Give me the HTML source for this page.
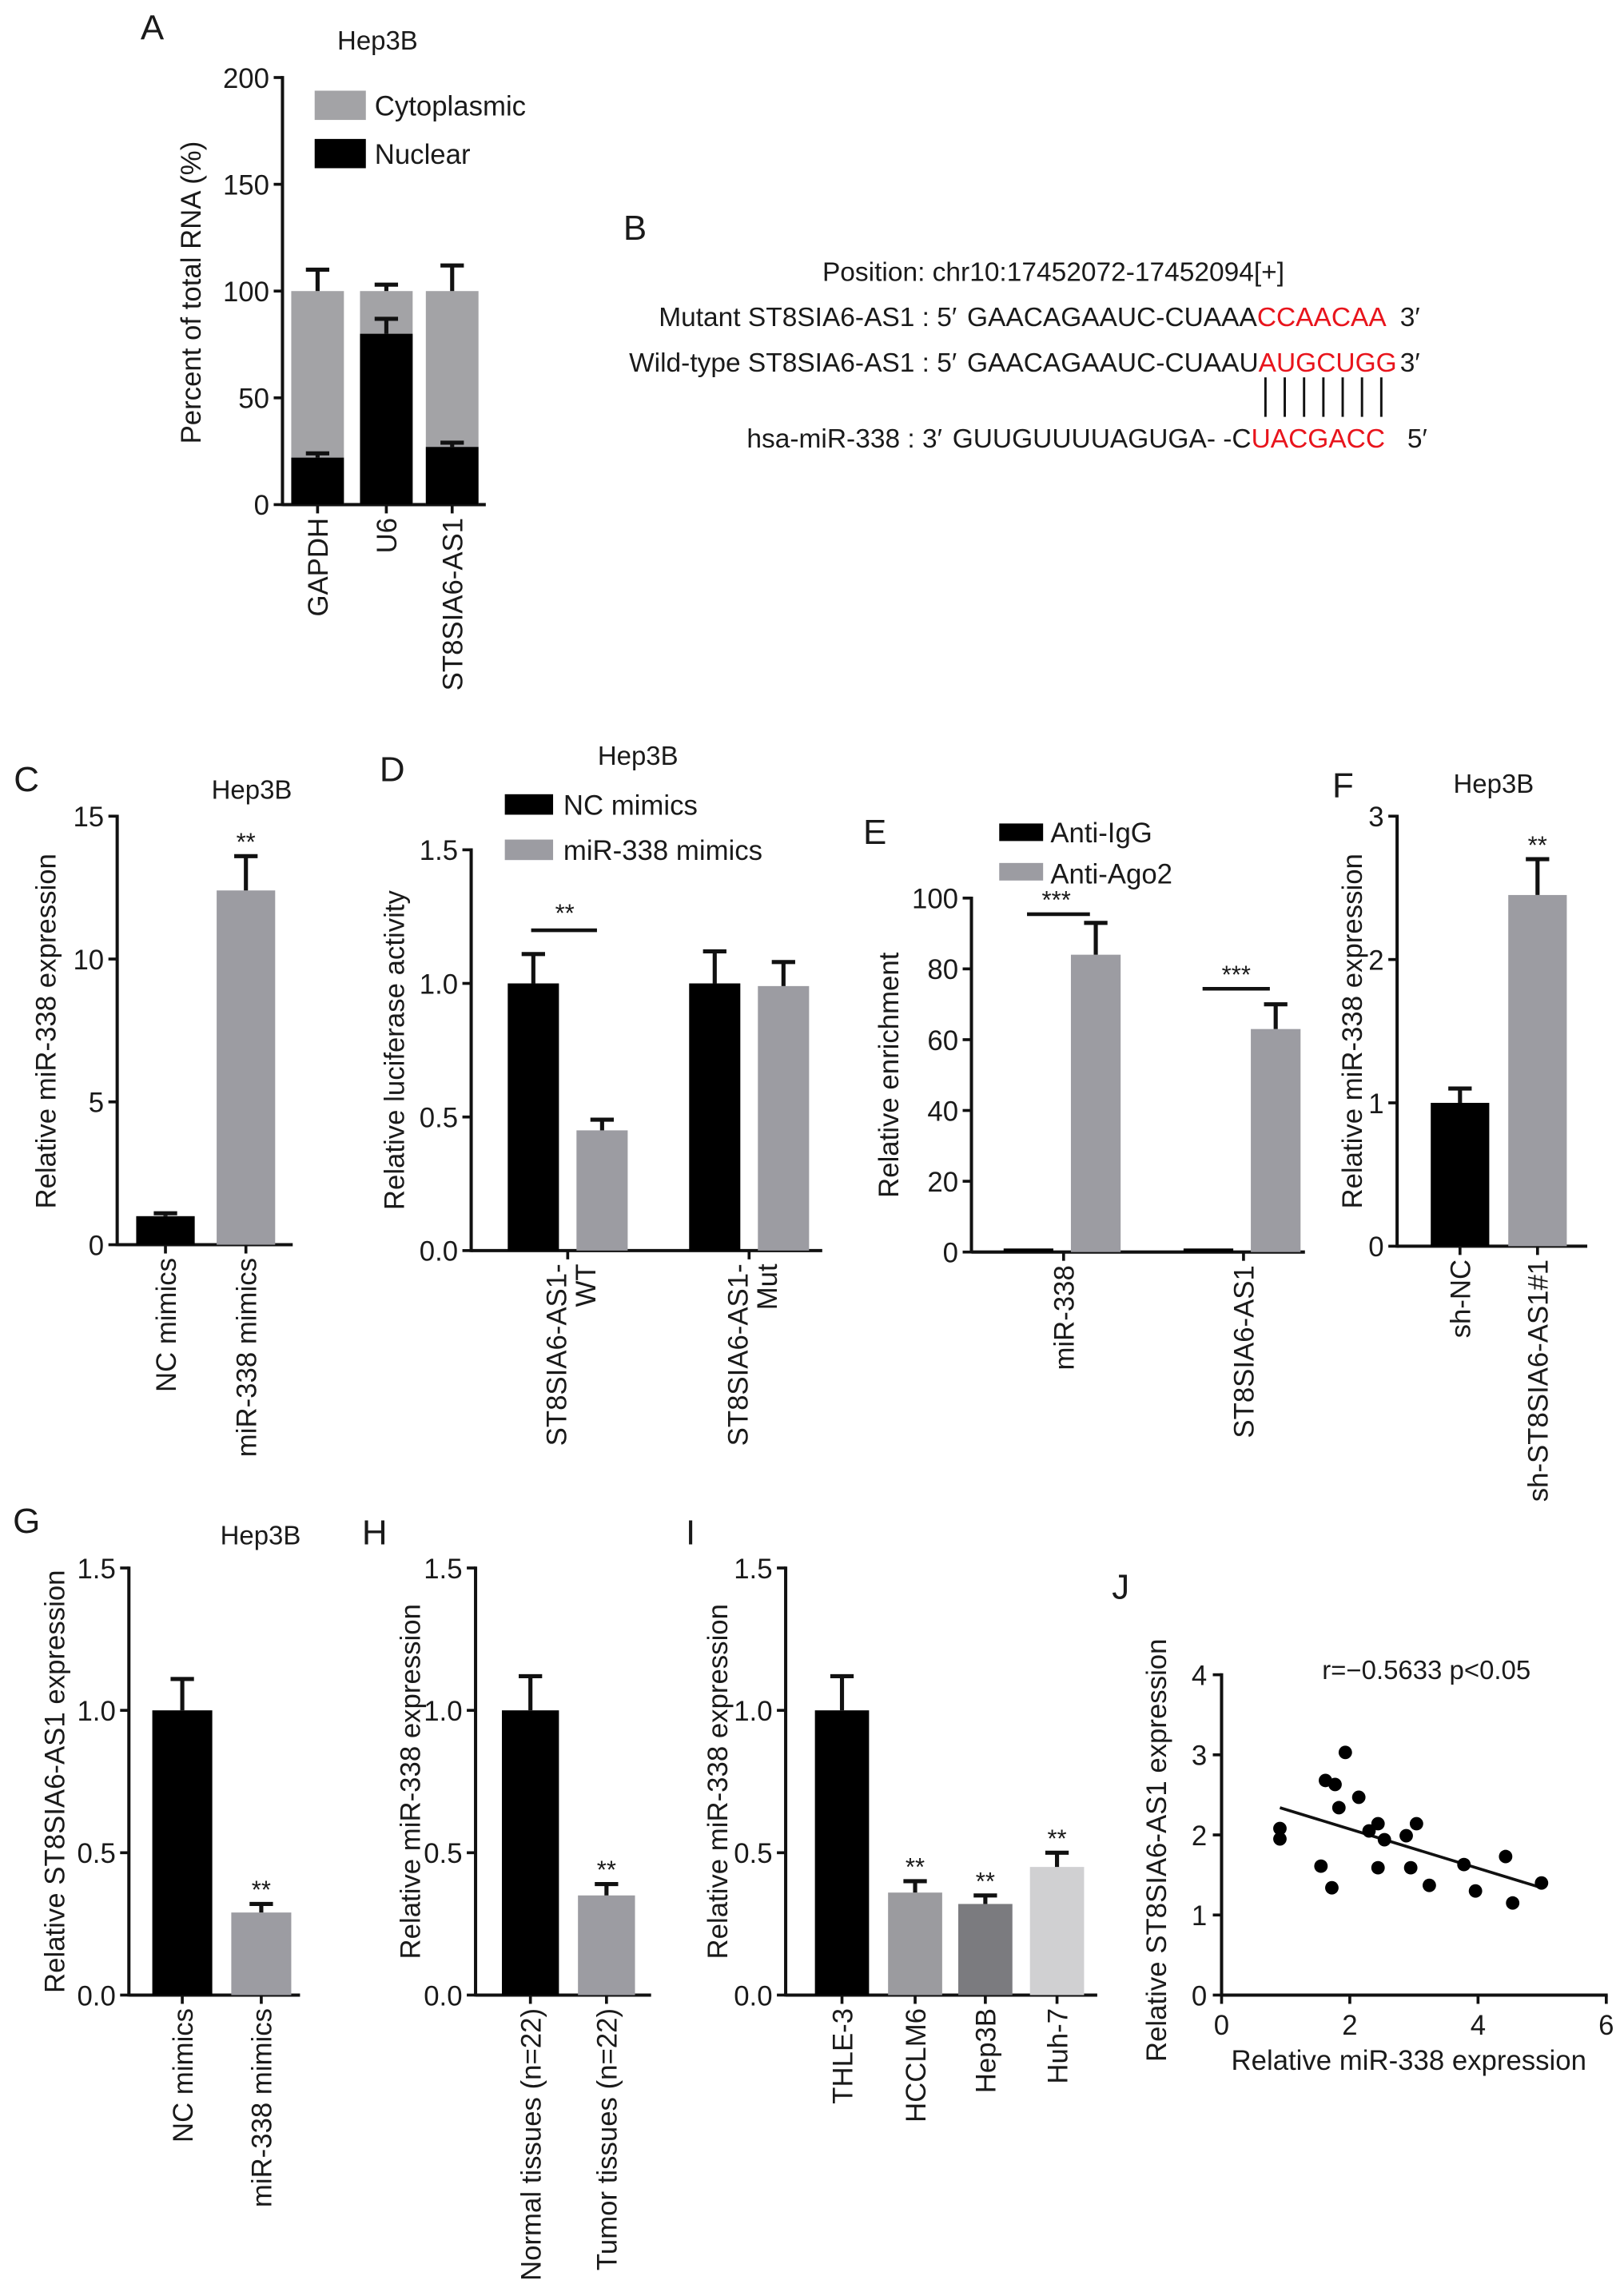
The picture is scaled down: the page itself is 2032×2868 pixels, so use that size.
<!DOCTYPE html>
<html><head><meta charset="utf-8"><style>
html,body{margin:0;padding:0;background:#fff}
svg{display:block}
text{font-family:"Liberation Sans",Arial,sans-serif;fill:#1a1a1a}
</style></head><body>
<svg id="fig" width="2032" height="2868" viewBox="0 0 1110 1567" xmlns="http://www.w3.org/2000/svg"></svg>
<script>
// ---------- data ----------
const aCats=["GAPDH","U6","ST8SIA6-AS1"];
const aNuclear=[22,80,27];
const aNuclearErr=[24,87,29];
const aTotal=[100,100,100];
const aTotalErr=[110,103,112];
const cCats=["NC mimics","miR-338 mimics"];
const cVals=[1.0,12.4];
const cErr=[1.1,13.6];
const dCats=["ST8SIA6-AS1-WT","ST8SIA6-AS1-Mut"];
const dNC=[1.0,1.0];
const dNCErr=[1.11,1.12];
const dMim=[0.45,0.99];
const dMimErr=[0.49,1.08];
const eCats=["miR-338","ST8SIA6-AS1"];
const eIgG=[1,1];
const eAgo=[84,63];
const eAgoErr=[93,70];
const fCats=["sh-NC","sh-ST8SIA6-AS1#1"];
const fVals=[1.0,2.45];
const fErr=[1.1,2.7];
const gCats=["NC mimics","miR-338 mimics"];
const gVals=[1.0,0.29];
const gErr=[1.11,0.32];
const hCats=["Normal tissues (n=22)","Tumor tissues (n=22)"];
const hVals=[1.0,0.35];
const hErr=[1.12,0.39];
const iCats=["THLE-3","HCCLM6","Hep3B","Huh-7"];
const iVals=[1.0,0.36,0.32,0.45];
const iErr=[1.12,0.40,0.35,0.50];
const jX=[0.91,0.91,1.55,1.72,1.62,1.77,1.83,1.93,2.14,2.30,2.44,2.54,2.44,2.88,3.04,2.95,3.24,3.78,3.96,4.43,4.54,4.99];
const jY=[2.08,1.95,1.61,1.34,2.68,2.63,2.34,3.03,2.47,2.05,2.14,1.94,1.59,1.99,2.14,1.59,1.37,1.63,1.30,1.73,1.15,1.40];
const jFit=[[0.91,2.34],[4.95,1.35]];
const jXTicks=[0,2,4,6];
const jYTicks=[0,1,2,3,4];

const FS=19;
const NS="http://www.w3.org/2000/svg";
const svg=document.getElementById('fig');
function el(tag,parent){const e=document.createElementNS(NS,tag);(parent||svg).appendChild(e);return e;}
function txt(s,x,y,size,anchor,parent,fill,rot){
  const t=el('text',parent);t.textContent=s;t.setAttribute('x',x);t.setAttribute('y',y);
  t.setAttribute('font-size',size);t.setAttribute('text-anchor',anchor||'start');
  if(fill)t.setAttribute('style','fill:'+fill);
  if(rot)t.setAttribute('transform','rotate(-90 '+x+' '+y+')');
  
  
  return t;}
function line(x1,y1,x2,y2,w,parent){const l=el('line',parent);l.setAttribute('x1',x1);l.setAttribute('y1',y1);l.setAttribute('x2',x2);l.setAttribute('y2',y2);l.setAttribute('stroke','#111');l.setAttribute('stroke-width',w||2);return l;}
function rect(x,y,w,h,fill,parent){const r=el('rect',parent);r.setAttribute('x',x);r.setAttribute('y',y);r.setAttribute('width',w);r.setAttribute('height',h);r.setAttribute('fill',fill);return r;}

function axes(g,ax,x0,x1,y0,yTop,max,ticks,fmt){
  const sc=v=>y0-(v/max)*(y0-yTop);
  line(ax,yTop-1,ax,y0+1,2.2,g);
  line(ax,y0,x1,y0,2.2,g);
  ticks.forEach(t=>{const y=sc(t);line(ax-6,y,ax,y,2,g);txt(fmt(t),ax-9,y+7,FS,'end',g);});
  return sc;}
function bar(g,x,w,v,e,sc,y0,fill,name){
  const r=rect(x,sc(v),w,y0-sc(v),fill,g);
  
  
  if(e!=null){const cx=x+w/2;line(cx,sc(e),cx,sc(v),2.8,g);line(cx-8,sc(e),cx+8,sc(e),2.8,g);}
  return r;}
function panel(name){const g=el('g');return g;}
const GREY='#9c9ca2';

// ---------- Panel A ----------
(function(){
  const g=panel('panel-a');
  txt('A',104,27,24,'middle',g);
  txt('Hep3B',258,34,18,'middle',g);
  const y0=345,sc=axes(g,193,193,332,y0,53,200,[0,50,100,150,200],t=>String(t));
  txt('Percent of total RNA (%)',137,200,FS,'middle',g,null,true);
  const xs=[199,246,291];
  aCats.forEach((c,i)=>{
    bar(g,xs[i],36,aTotal[i],aTotalErr[i],sc,y0,'#a3a3a6','bar-cytoplasmic');
    bar(g,xs[i],36,aNuclear[i],aNuclearErr[i],sc,y0,'#000','bar-nuclear');
    line(xs[i]+18,y0,xs[i]+18,y0+6,2,g);
    txt(c,xs[i]+25,y0+9,FS,'end',g,null,true);
  });
  rect(215,62,35,20,'#a3a3a6',g);
  txt('Cytoplasmic',256,79,FS,'start',g);
  rect(215,95,35,20,'#000',g);
  txt('Nuclear',256,112,FS,'start',g);
})();

// ---------- Panel B ----------
(function(){
  const g=panel('panel-b');
  const BS=18.3;
  txt('B',434,164,24,'middle',g);
  txt('Position:  chr10:17452072-17452094[+]',720,192,BS,'middle',g);
  txt('Mutant ST8SIA6-AS1 : 5′',654,223,BS,'end',g);
  let t=txt('GAACAGAAUC-CUAAA',661,223,BS,'start',g);
  const r1=el('tspan',t);r1.textContent='CCAACAA';r1.setAttribute('style','fill:#e8141c');
  txt('3′',957,223,BS,'start',g);
  txt('Wild-type ST8SIA6-AS1 : 5′',654,254,BS,'end',g);
  t=txt('GAACAGAAUC-CUAAU',661,254,BS,'start',g);
  const r2=el('tspan',t);r2.textContent='AUGCUGG';r2.setAttribute('style','fill:#e8141c');
  txt('3′',957,254,BS,'start',g);
  for(let k=0;k<7;k++){line(865+k*13.2,258,865+k*13.2,285,1.6,g);}
  txt('hsa-miR-338 : 3′',644,306,BS,'end',g);
  t=txt('GUUGUUUUAGUGA- -C',651,306,BS,'start',g);
  const r3=el('tspan',t);r3.textContent='UACGACC';r3.setAttribute('style','fill:#e8141c');
  txt('5′',962,306,BS,'start',g);
})();

// ---------- Simple panels ----------
function simple(name,letter,lx,ly,title,tx,ty,ax,x1,y0,yTop,max,ticks,fmt,ytitle,ytx,yty,cats,vals,errs,xs,w,fills,stars){
  const g=panel(name);
  txt(letter,lx,ly,24,'middle',g);
  if(title)txt(title,tx,ty,18,'middle',g);
  const sc=axes(g,ax,ax,x1,y0,yTop,max,ticks,fmt);
  txt(ytitle,ytx,yty,FS,'middle',g,null,true);
  cats.forEach((c,i)=>{
    bar(g,xs[i],w,vals[i],errs[i],sc,y0,fills[i],'bar-'+i);
    line(xs[i]+w/2,y0,xs[i]+w/2,y0+6,2,g);
    txt(c,xs[i]+w/2+7,y0+9,FS,'end',g,null,true);
    if(stars[i])txt(stars[i],xs[i]+w/2,sc(errs[i])-4,17,'middle',g);
  });
  return g;}
const f1=v=>v.toFixed(1);
simple('panel-c','C',18,541,'Hep3B',172,546,80,200,851,558,15,[0,5,10,15],t=>String(t),'Relative miR-338 expression',38,705,cCats,cVals,cErr,[93,148],40,['#000',GREY],['','**']);
simple('panel-f','F',918,545,'Hep3B',1021,542,955,1085,852,558,3,[0,1,2,3],t=>String(t),'Relative miR-338 expression',931,705,fCats,fVals,fErr,[978,1031],40,['#000',GREY],['','**']);
simple('panel-g','G',18,1048,'Hep3B',178,1056,88,205,1364,1072,1.5,[0,0.5,1,1.5],f1,'Relative ST8SIA6-AS1 expression',44,1218,gCats,gVals,gErr,[104,158],41,['#000',GREY],['','**']);
simple('panel-h','H',256,1056,null,0,0,325,445,1364,1072,1.5,[0,0.5,1,1.5],f1,'Relative miR-338 expression',287,1218,hCats,hVals,hErr,[343,395],39,['#000',GREY],['','**']);
simple('panel-i','I',472,1056,null,0,0,537,750,1364,1072,1.5,[0,0.5,1,1.5],f1,'Relative miR-338 expression',497,1218,iCats,iVals,iErr,[557,607,655,704],37,['#000','#9b9b9f','#7b7b7f','#d0d0d2'],['','**','**','**']);

// ---------- Panel D ----------
(function(){
  const g=panel('panel-d');
  txt('D',268,534,24,'middle',g);
  txt('Hep3B',436,523,18,'middle',g);
  const y0=855,sc=axes(g,322,322,562,y0,581,1.5,[0,0.5,1,1.5],f1);
  txt('Relative luciferase activity',276,718,FS,'middle',g,null,true);
  const xs=[347,471];
  dCats.forEach((c,i)=>{
    bar(g,xs[i],35,dNC[i],dNCErr[i],sc,y0,'#000','bar-nc-mimics');
    bar(g,xs[i]+47,35,dMim[i],dMimErr[i],sc,y0,GREY,'bar-mir338-mimics');
    const cx=xs[i]+41;line(cx,y0,cx,y0+6,2,g);
    const parts=c.split('-');const l2=parts.pop();
    txt(parts.join('-')+'-',cx-1,y0+9,FS,'end',g,null,true);
    txt(l2,cx+19,y0+9,FS,'end',g,null,true);
  });
  line(363,636,408,636,2.5,g);txt('**',386,630,17,'middle',g);
  rect(345,543,33,14,'#000',g);
  txt('NC mimics',385,557,FS,'start',g);
  rect(345,574,33,14,GREY,g);
  txt('miR-338 mimics',385,588,FS,'start',g);
})();

// ---------- Panel E ----------
(function(){
  const g=panel('panel-e');
  txt('E',598,577,24,'middle',g);
  const y0=856,sc=axes(g,664,664,892,y0,614,100,[0,20,40,60,80,100],t=>String(t));
  txt('Relative enrichment',614,735,FS,'middle',g,null,true);
  const xs=[686,809];
  eCats.forEach((c,i)=>{
    bar(g,xs[i],34,eIgG[i],null,sc,y0,'#000','bar-anti-igg');
    bar(g,xs[i]+46,34,eAgo[i],eAgoErr[i],sc,y0,GREY,'bar-anti-ago2');
    const cx=xs[i]+41;line(cx,y0,cx,y0+6,2,g);
    txt(c,cx+7,y0+9,FS,'end',g,null,true);
  });
  line(702,625,745,625,2.5,g);txt('***',722,621,17,'middle',g);
  line(822,676,868,676,2.5,g);txt('***',845,672,17,'middle',g);
  rect(683,563,30,12,'#000',g);
  txt('Anti-IgG',718,576,FS,'start',g);
  rect(683,590,30,12,GREY,g);
  txt('Anti-Ago2',718,604,FS,'start',g);
})();

// ---------- Panel J ----------
(function(){
  const g=panel('panel-j');
  txt('J',766,1093,24,'middle',g);
  const ax=835,y0=1364,yTop=1145,xR=1098;
  const sx=v=>ax+v/6*(xR-ax), sy=v=>y0-v/4*(y0-yTop);
  line(ax,yTop-1,ax,y0+1,2.2,g);line(ax-1,y0,xR+1,y0,2.2,g);
  jYTicks.forEach(t=>{line(ax-6,sy(t),ax,sy(t),2,g);txt(String(t),ax-10,sy(t)+7,FS,'end',g);});
  jXTicks.forEach(t=>{line(sx(t),y0,sx(t),y0+6,2,g);txt(String(t),sx(t),y0+27,FS,'middle',g);});
  txt('Relative miR-338 expression',963,1415,FS,'middle',g);
  txt('Relative ST8SIA6-AS1 expression',797,1265,FS,'middle',g,null,true);
  txt('r=−0.5633 p<0.05',975,1148,18,'middle',g);
  const fl=line(sx(jFit[0][0]),sy(jFit[0][1]),sx(jFit[1][0]),sy(jFit[1][1]),2,g);
  
  jX.forEach((x,i)=>{const c=el('circle',g);c.setAttribute('cx',sx(x));c.setAttribute('cy',sy(jY[i]));c.setAttribute('r',4.6);c.setAttribute('fill','#000');
    
    });
})();
</script>
</body></html>
